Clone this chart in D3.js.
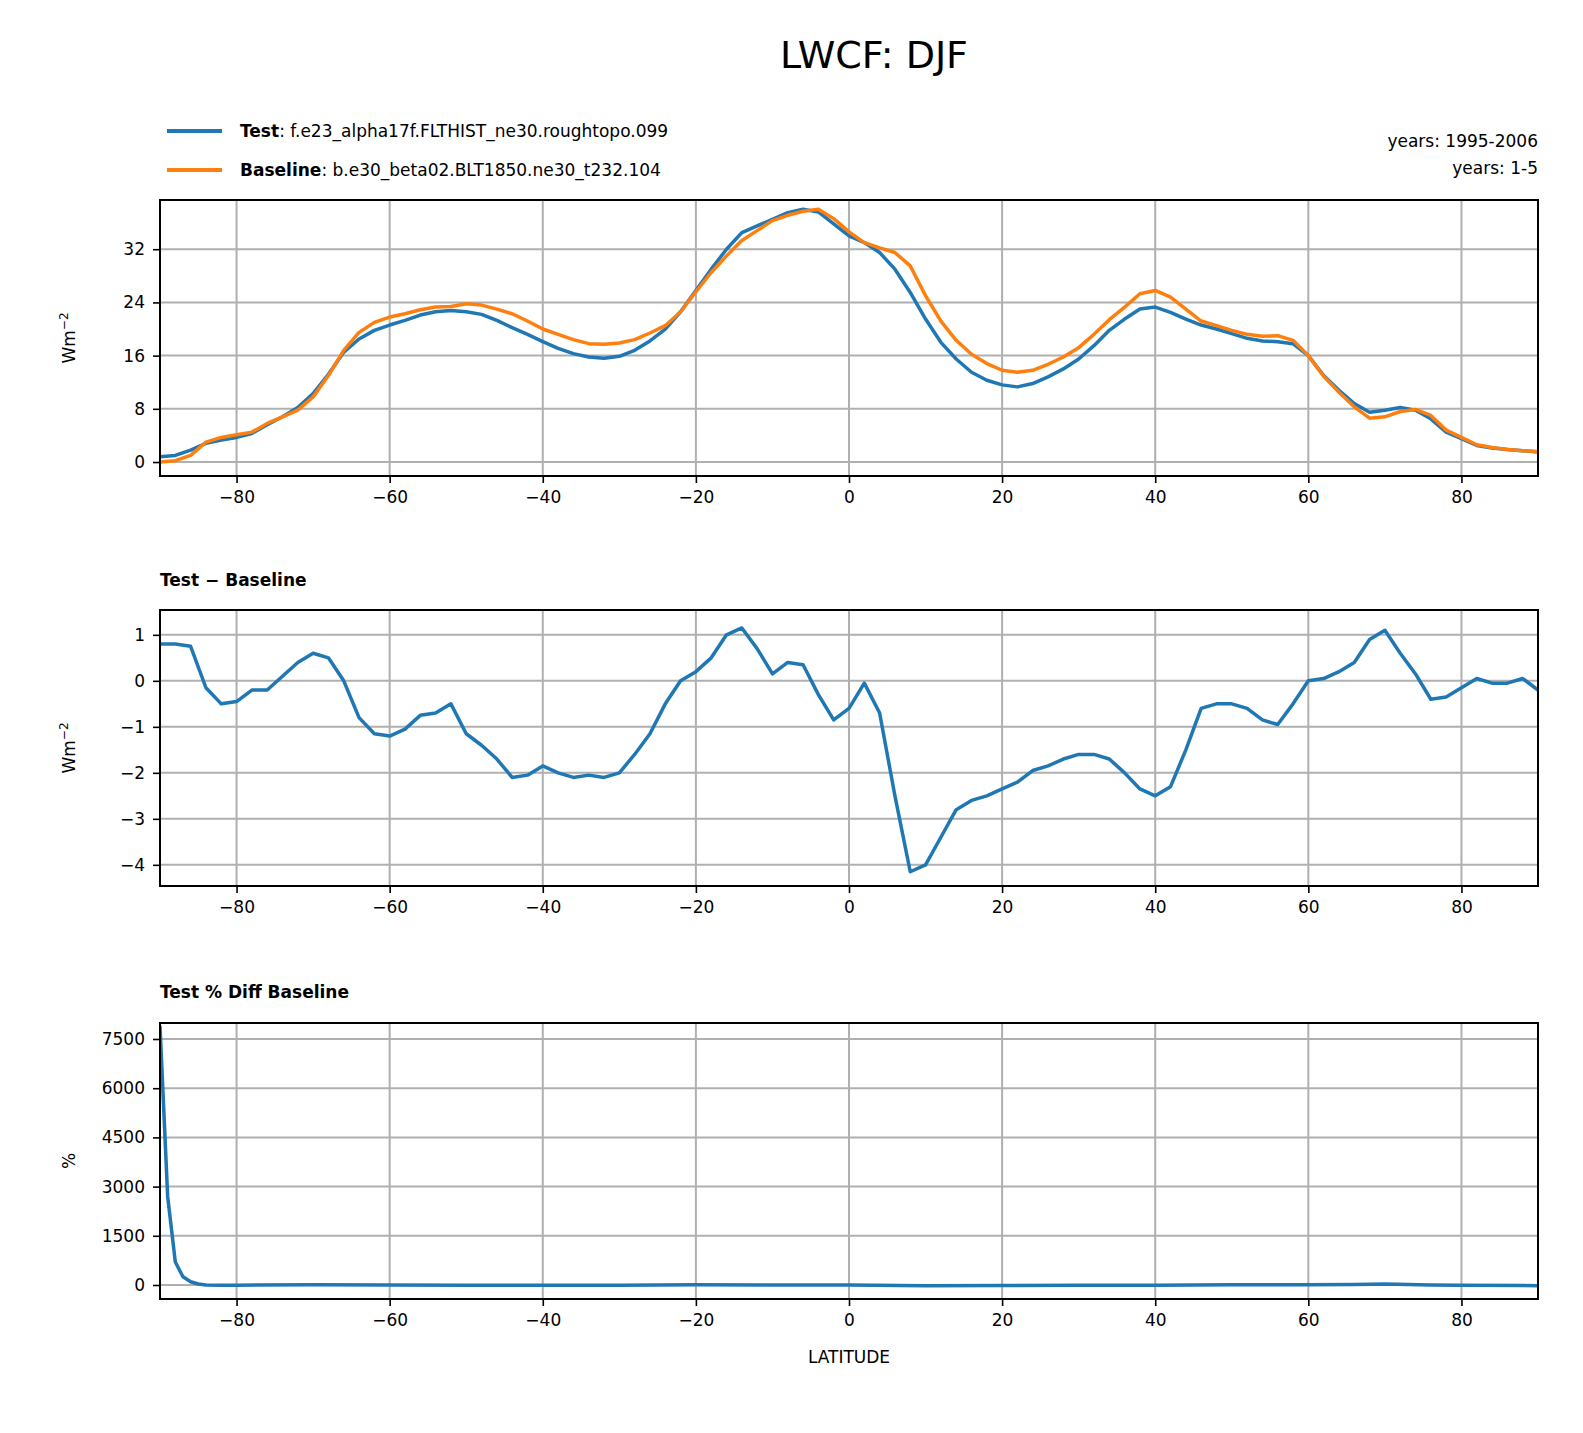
<!DOCTYPE html>
<html><head><meta charset="utf-8">
<script src="https://cdn.jsdelivr.net/npm/d3@7"></script>
<style>body{margin:0;background:#fff}text{font-family:"DejaVu Sans",sans-serif}</style>
</head><body><svg id="c" width="1583" height="1433"></svg>
<script>
const lats = d3.range(-90, 91, 2);
const testVals = [0.8,1.0,1.8,2.8,3.3,3.7,4.3,5.6,6.8,8.2,10.3,13.2,16.5,18.5,19.8,20.6,21.3,22.1,22.6,22.8,22.6,22.2,21.3,20.2,19.2,18.1,17.1,16.3,15.8,15.6,15.9,16.8,18.2,20.0,22.6,25.8,29.0,32.0,34.5,35.5,36.5,37.5,38.0,37.6,35.8,34.0,33.0,31.5,29.0,25.5,21.5,18.0,15.5,13.5,12.3,11.6,11.3,11.8,12.8,14.0,15.5,17.5,19.8,21.5,23.0,23.3,22.5,21.5,20.6,20.0,19.3,18.6,18.2,18.1,17.8,16.0,13.0,10.8,8.8,7.5,7.8,8.2,7.8,6.5,4.5,3.5,2.5,2.1,1.9,1.7,1.5];
const baseVals = [0,0.2,1.0,3.0,3.7,4.1,4.5,5.8,6.8,7.8,9.8,13.0,16.8,19.5,21.0,21.8,22.3,22.9,23.3,23.4,23.8,23.6,23.0,22.3,21.2,20.0,19.2,18.4,17.8,17.7,17.9,18.4,19.4,20.5,22.6,25.6,28.5,31.0,33.3,34.8,36.3,37.1,37.7,38.0,36.6,34.6,33.0,32.2,31.5,29.5,25.0,21.2,18.3,16.2,14.8,13.8,13.5,13.8,14.7,15.8,17.2,19.2,21.4,23.3,25.3,25.8,24.8,23.0,21.2,20.5,19.8,19.2,18.9,19.0,18.3,16.0,12.9,10.5,8.3,6.6,6.8,7.6,7.9,7.0,4.8,3.7,2.6,2.2,1.9,1.7,1.6];
const diffVals = [0.8,0.8,0.75,-0.15,-0.5,-0.45,-0.2,-0.2,0.1,0.4,0.6,0.5,0.0,-0.8,-1.15,-1.2,-1.05,-0.75,-0.7,-0.5,-1.15,-1.4,-1.7,-2.1,-2.05,-1.85,-2.0,-2.1,-2.05,-2.1,-2.0,-1.6,-1.15,-0.5,0.0,0.2,0.5,1.0,1.15,0.7,0.15,0.4,0.35,-0.3,-0.85,-0.6,-0.05,-0.7,-2.5,-4.15,-4.0,-3.4,-2.8,-2.6,-2.5,-2.35,-2.2,-1.95,-1.85,-1.7,-1.6,-1.6,-1.7,-2.0,-2.35,-2.5,-2.3,-1.5,-0.6,-0.5,-0.5,-0.6,-0.85,-0.95,-0.5,0.0,0.05,0.2,0.4,0.9,1.1,0.6,0.15,-0.4,-0.35,-0.15,0.05,-0.05,-0.05,0.05,-0.2];
const pctLats = [-90,-89,-88,-87,-86,-85,-84,-82,-80,-70,-60,-50,-40,-30,-20,-10,0,10,20,30,40,50,60,66,70,76,80,90];
const pctVals = [7900,2700,700,250,100,30,0,-10,-5,5,0,-5,-10,-10,5,0,0,-20,-15,-10,-5,5,10,15,30,0,-5,-20];
const xTicks = [-80,-60,-40,-20,0,20,40,60,80];
const yTicks1 = [0,8,16,24,32], yTicks2 = [-4,-3,-2,-1,0,1], yTicks3 = [0,1500,3000,4500,6000,7500];

const svg = d3.select("#c");
const x = d3.scaleLinear().domain([-90,90]).range([160,1538]);
const fmt = d => d < 0 ? "\u2212" + Math.abs(d) : String(d);
function panel(top, yDom, ticks, series, ylabel) {
  const y = d3.scaleLinear().domain(yDom).range([top+276, top]);
  const g = svg.append("g");
  g.selectAll(".gx").data(xTicks).join("line").attr("x1",d=>x(d)).attr("x2",d=>x(d)).attr("y1",top).attr("y2",top+276).attr("stroke","#b0b0b0").attr("stroke-width",2);
  g.selectAll(".gy").data(ticks).join("line").attr("x1",160).attr("x2",1538).attr("y1",d=>y(d)).attr("y2",d=>y(d)).attr("stroke","#b0b0b0").attr("stroke-width",2);
  const cp = "cp"+top;
  svg.append("clipPath").attr("id",cp).append("rect").attr("x",160).attr("y",top).attr("width",1378).attr("height",276);
  series.forEach(s => {
    g.append("path").attr("clip-path",`url(#${cp})`).datum(s.v.map((v,i)=>[s.x[i],v]))
      .attr("d", d3.line().x(d=>x(d[0])).y(d=>y(d[1]))).attr("fill","none").attr("stroke",s.c).attr("stroke-width",3.5).attr("stroke-linejoin","round");
  });
  const ax = g.append("g").attr("transform",`translate(0,${top+276})`).call(d3.axisBottom(x).tickValues(xTicks).tickFormat(fmt).tickSize(7).tickPadding(8));
  const ay = g.append("g").attr("transform",`translate(160,0)`).call(d3.axisLeft(y).tickValues(ticks).tickFormat(fmt).tickSize(7).tickPadding(8));
  [ax,ay].forEach(a=>{a.select(".domain").remove();a.selectAll("line").attr("stroke-width",1.6);a.selectAll("text").style("font-size","17px").attr("font-family","DejaVu Sans");});
  g.append("rect").attr("x",160).attr("y",top).attr("width",1378).attr("height",276).attr("fill","none").attr("stroke","#000").attr("stroke-width",2);
  const yl = g.append("text").attr("transform",`translate(75,${top+138}) rotate(-90)`).attr("text-anchor","middle").style("font-size","17px");
  if (ylabel === "W") { yl.append("tspan").text("Wm"); yl.append("tspan").attr("dy",-7).style("font-size","12px").text("\u22122"); }
  else yl.text(ylabel);
}
panel(200,[-2.1,39.4],yTicks1,[{x:lats,v:testVals,c:"#1f77b4"},{x:lats,v:baseVals,c:"#ff7f0e"}],"W");
panel(610,[-4.46,1.54],yTicks2,[{x:lats,v:diffVals,c:"#1f77b4"}],"W");
panel(1023,[-427,7988],yTicks3,[{x:pctLats,v:pctVals,c:"#1f77b4"}],"%");

svg.append("text").attr("x",874).attr("y",68).attr("text-anchor","middle").style("font-size","38px").text("LWCF: DJF");
const legend = [["Test",": f.e23_alpha17f.FLTHIST_ne30.roughtopo.099","#1f77b4",131],["Baseline",": b.e30_beta02.BLT1850.ne30_t232.104","#ff7f0e",170]];
legend.forEach(([b,t,c,yy])=>{
  svg.append("line").attr("x1",167).attr("x2",222).attr("y1",yy).attr("y2",yy).attr("stroke",c).attr("stroke-width",4);
  const tx = svg.append("text").attr("x",240).attr("y",yy+6).style("font-size","17px");
  tx.append("tspan").attr("font-weight","bold").text(b);
  tx.append("tspan").text(t);
});
svg.append("text").attr("x",1538).attr("y",147).attr("text-anchor","end").style("font-size","17px").text("years: 1995-2006");
svg.append("text").attr("x",1538).attr("y",174).attr("text-anchor","end").style("font-size","17px").text("years: 1-5");
svg.append("text").attr("x",160).attr("y",586).attr("font-weight","bold").style("font-size","17px").text("Test \u2212 Baseline");
svg.append("text").attr("x",160).attr("y",998).attr("font-weight","bold").style("font-size","17px").text("Test % Diff Baseline");
svg.append("text").attr("x",849).attr("y",1363).attr("text-anchor","middle").style("font-size","17px").text("LATITUDE");
</script></body></html>
